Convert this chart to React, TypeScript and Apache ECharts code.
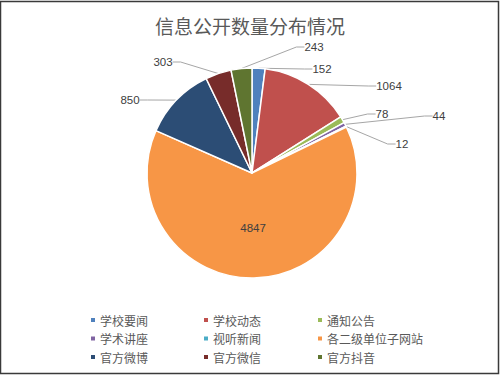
import React, { useEffect, useRef } from "react";
import * as echarts from "echarts";

const titleText = "信息公开数量分布情况";
const categories = [
  "学校要闻",
  "学校动态",
  "通知公告",
  "学术讲座",
  "视听新闻",
  "各二级单位子网站",
  "官方微博",
  "官方微信",
  "官方抖音",
];
const values = [152, 1064, 78, 44, 12, 4847, 850, 303, 243];
const colors = [
  "#4F81BD",
  "#C0504D",
  "#9BBB59",
  "#8064A2",
  "#4BACC6",
  "#F79646",
  "#2C4D75",
  "#772C2A",
  "#5F7530",
];
// label centres (Excel-style manual placement); null = default inside label
const labelCenters: ([number, number] | null)[] = [
  [322, 69],
  [389, 86],
  [382, 114],
  [439, 116],
  [402, 144],
  null,
  [130, 100],
  [163, 62],
  [314, 47],
];
const legendColumns = [
  ["学校要闻", "学术讲座", "官方微博"],
  ["学校动态", "视听新闻", "官方微信"],
  ["通知公告", "各二级单位子网站", "官方抖音"],
];

export default function App() {
  const ref = useRef<HTMLDivElement>(null);
  useEffect(() => {
    if (!ref.current) return;
    const chart = echarts.init(ref.current, null, { renderer: "svg" });
    const cjk = '"Noto Sans CJK SC", "Microsoft YaHei", sans-serif';
    const numFont = '"Liberation Sans", "Noto Sans", sans-serif';
    const legendLefts = [89, 202, 316];
    chart.setOption({
      animation: false,
      backgroundColor: "#ffffff",
      color: colors,
      title: {
        text: titleText,
        left: "center",
        top: 11,
        textStyle: {
          fontFamily: cjk,
          fontSize: 19,
          fontWeight: "normal",
          color: "#595959",
        },
      },
      legend: legendColumns.map((col, i) => ({
        orient: "vertical",
        left: legendLefts[i],
        top: 314,
        data: col,
        icon: "rect",
        itemWidth: 6,
        itemHeight: 6,
        itemGap: 6.5,
        padding: 0,
        textStyle: {
          fontFamily: cjk,
          fontSize: 12,
          color: "#595959",
          padding: [0, 0, 0, -1],
        },
      })),
      graphic: [
        {
          type: "rect",
          shape: { x: 0.5, y: 1.5, width: 498, height: 372 },
          style: { fill: "none", stroke: "#3a3a3a", lineWidth: 1.5 },
          silent: true,
        },
      ],
      series: [
        {
          type: "pie",
          center: [252, 173],
          radius: [0, 105],
          startAngle: 90,
          clockwise: true,
          avoidLabelOverlap: false,
          itemStyle: { borderColor: "#ffffff", borderWidth: 1.5 },
          label: {
            show: true,
            formatter: "{c}",
            fontFamily: numFont,
            fontSize: 11.5,
            fontWeight: "normal",
            color: "#404040",
          },
          labelLine: {
            show: true,
            length: 10,
            length2: 8,
            lineStyle: { color: "#A6A6A6", width: 1 },
          },
          labelLayout: (params: any) => {
            const p = labelCenters[params.dataIndex];
            if (!p) return {};
            return { x: p[0], y: p[1], align: "center", verticalAlign: "middle" };
          },
          data: categories.map((name, i) => ({
            name,
            value: values[i],
            ...(labelCenters[i] === null
              ? { label: { position: "inside" }, labelLine: { show: false } }
              : {}),
          })),
        },
      ],
    });
    return () => chart.dispose();
  }, []);
  return (
    <div
      ref={ref}
      style={{ position: "absolute", left: 0, top: 0, width: 500, height: 375 }}
    />
  );
}
